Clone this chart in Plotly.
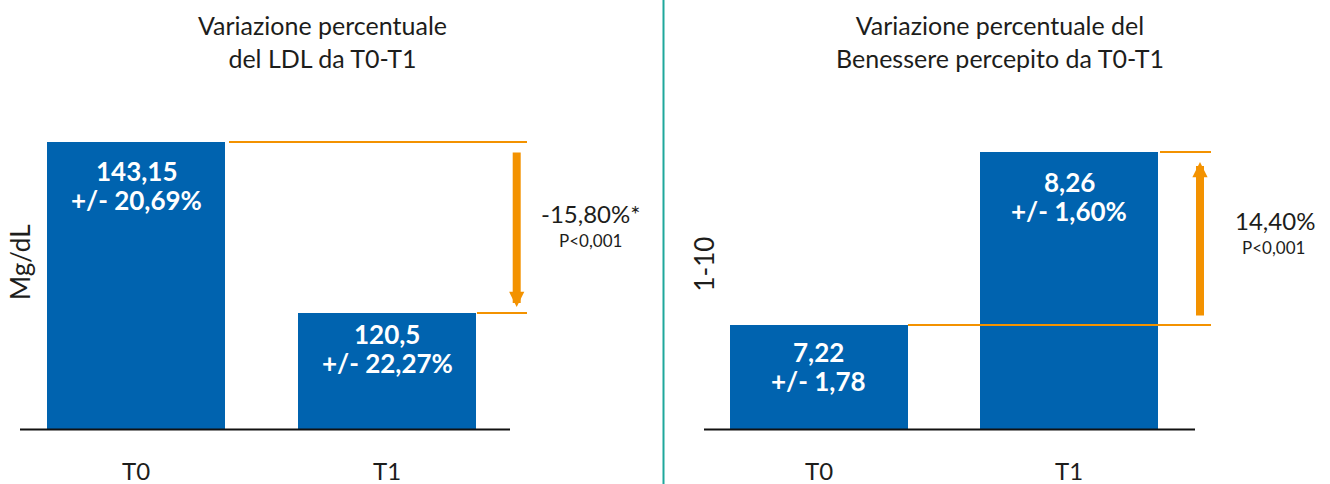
import plotly.graph_objects as go

# ---------------- data ----------------
categories = ["T0", "T1"]
ldl_values = [143.15, 120.5]
ldl_value_labels = ["143,15", "120,5"]
ldl_sd_labels = ["+/- 20,69%", "+/- 22,27%"]
wellbeing_values = [7.22, 8.26]
wellbeing_value_labels = ["7,22", "8,26"]
wellbeing_sd_labels = ["+/- 1,78", "+/- 1,60%"]
ldl_change_label = "-15,80%*"
wellbeing_change_label = "14,40%"
p_value_label = "P<0,001"
panel_titles = ["Variazione percentuale<br>del LDL da T0-T1",
                "Variazione percentuale del<br>Benessere percepito da T0-T1"]
y_titles = ["Mg/dL", "1-10"]

# ---------------- style ----------------
W, H = 1330, 484
BLUE = "#0063AF"
ORANGE = "#F39200"
TEAL = "#1FA89C"
TEXT = "#1D1D1B"
FONT = "Lato"
PLOT_TOP, PLOT_BOTTOM = 100, 429

LEFT = dict(dom=(20, 650), c0=136, step=251, yr=(105.14, 148.71), base=(20, 510))
RIGHT = dict(dom=(704, 1320), c0=819, step=250, yr=(6.595, 8.573), base=(704, 1195))
BAR_W_PX = 178


def px_x(px):
    return px / W


def px_y(py):
    return (H - py) / H


def xdata(p, px):
    return (px - p["c0"]) / p["step"]


def ydata(p, py):
    lo, hi = p["yr"]
    return lo + (PLOT_BOTTOM - py) * (hi - lo) / (PLOT_BOTTOM - PLOT_TOP)


fig = go.Figure()
fig.add_trace(go.Bar(x=categories, y=ldl_values, xaxis="x", yaxis="y",
                     width=BAR_W_PX / LEFT["step"], marker=dict(color=BLUE, line=dict(width=0)),
                     hoverinfo="skip"))
fig.add_trace(go.Bar(x=categories, y=wellbeing_values, xaxis="x2", yaxis="y2",
                     width=BAR_W_PX / RIGHT["step"], marker=dict(color=BLUE, line=dict(width=0)),
                     hoverinfo="skip"))

tickfont = dict(family=FONT, size=24, color=TEXT)
common_x = dict(type="category", showgrid=False, zeroline=False, showline=False,
                ticks="", tickfont=tickfont, ticklabelstandoff=26, automargin=False, fixedrange=True)
common_y = dict(visible=False, domain=[px_y(PLOT_BOTTOM), px_y(PLOT_TOP)], fixedrange=True)

fig.update_layout(
    width=W, height=H, autosize=False,
    margin=dict(l=0, r=0, t=0, b=0),
    paper_bgcolor="white", plot_bgcolor="white",
    showlegend=False, bargap=0,
    font=dict(family=FONT, color=TEXT),
    xaxis=dict(domain=[px_x(LEFT["dom"][0]), px_x(LEFT["dom"][1])],
               range=[xdata(LEFT, LEFT["dom"][0]), xdata(LEFT, LEFT["dom"][1])],
               anchor="y", **common_x),
    yaxis=dict(range=list(LEFT["yr"]), anchor="x", **common_y),
    xaxis2=dict(domain=[px_x(RIGHT["dom"][0]), px_x(RIGHT["dom"][1])],
                range=[xdata(RIGHT, RIGHT["dom"][0]), xdata(RIGHT, RIGHT["dom"][1])],
                anchor="y2", **common_x),
    yaxis2=dict(range=list(RIGHT["yr"]), anchor="x2", **common_y),
)

shapes = []
annotations = []

# baselines and divider
for p, xr in ((LEFT, "x"), (RIGHT, "x2")):
    shapes.append(dict(type="line", xref=xr, yref="paper",
                       x0=xdata(p, p["base"][0]), x1=xdata(p, p["base"][1]),
                       y0=px_y(PLOT_BOTTOM + 0.5), y1=px_y(PLOT_BOTTOM + 0.5),
                       line=dict(color="#111111", width=2)))
shapes.append(dict(type="line", xref="paper", yref="paper", x0=px_x(663.5), x1=px_x(663.5),
                   y0=0, y1=1, line=dict(color=TEAL, width=2)))

# orange reference lines
shapes.append(dict(type="line", xref="x", yref="y", x0=xdata(LEFT, 229), x1=xdata(LEFT, 527),
                   y0=ldl_values[0], y1=ldl_values[0], line=dict(color=ORANGE, width=2)))
shapes.append(dict(type="line", xref="x", yref="y", x0=xdata(LEFT, 477), x1=xdata(LEFT, 527),
                   y0=ldl_values[1], y1=ldl_values[1], line=dict(color=ORANGE, width=2)))
shapes.append(dict(type="line", xref="x2", yref="y2", x0=xdata(RIGHT, 1160), x1=xdata(RIGHT, 1211),
                   y0=wellbeing_values[1], y1=wellbeing_values[1], line=dict(color=ORANGE, width=2)))
shapes.append(dict(type="line", xref="x2", yref="y2", x0=xdata(RIGHT, 908), x1=xdata(RIGHT, 1211),
                   y0=wellbeing_values[0], y1=wellbeing_values[0], line=dict(color=ORANGE, width=2)))

# arrows
annotations.append(dict(xref="x", yref="y", axref="x", ayref="y",
                        x=xdata(LEFT, 516.7), y=ydata(LEFT, 307),
                        ax=xdata(LEFT, 516.7), ay=ydata(LEFT, 151),
                        showarrow=True, arrowhead=2, arrowsize=0.38, arrowwidth=8,
                        arrowcolor=ORANGE, text="", standoff=0, startstandoff=0))
annotations.append(dict(xref="x2", yref="y2", axref="x2", ayref="y2",
                        x=xdata(RIGHT, 1200), y=ydata(RIGHT, 162),
                        ax=xdata(RIGHT, 1200), ay=ydata(RIGHT, 317),
                        showarrow=True, arrowhead=2, arrowsize=0.38, arrowwidth=8,
                        arrowcolor=ORANGE, text="", standoff=0, startstandoff=0))

# bar labels
label_font = dict(family=FONT, size=26, color="white", weight="bold")
for xr, yr, vals, l1, l2, offs in (
        ("x", "y", ldl_values, ldl_value_labels, ldl_sd_labels, (29.5, 21)),
        ("x2", "y2", wellbeing_values, wellbeing_value_labels, wellbeing_sd_labels, (27, 29.7))):
    for i, cat in enumerate(categories):
        annotations.append(dict(xref=xr, yref=yr, x=cat, y=vals[i], text=l1[i], showarrow=False,
                                yanchor="middle", yshift=-offs[i], font=label_font))
        annotations.append(dict(xref=xr, yref=yr, x=cat, y=vals[i], text=l2[i], showarrow=False,
                                yanchor="middle", yshift=-(offs[i] + 29), font=label_font))

# titles
for title, cx in zip(panel_titles, (322, 1000)):
    annotations.append(dict(xref="paper", yref="paper", x=px_x(cx), y=px_y(41.5), text=title,
                            showarrow=False, xanchor="center", yanchor="middle",
                            font=dict(family=FONT, size=25, color=TEXT)))

# change labels
for txt, cx, cy in ((ldl_change_label, 590, 213), (wellbeing_change_label, 1275, 220)):
    annotations.append(dict(xref="paper", yref="paper", x=px_x(cx), y=px_y(cy), text=txt,
                            showarrow=False, xanchor="center", yanchor="middle", borderpad=0,
                            font=dict(family=FONT, size=24, color=TEXT)))
for cx, cy in ((590, 240.5), (1273, 247.5)):
    annotations.append(dict(xref="paper", yref="paper", x=px_x(cx), y=px_y(cy), text=p_value_label,
                            showarrow=False, xanchor="center", yanchor="middle", borderpad=0,
                            font=dict(family=FONT, size=17, color=TEXT)))

# y titles
for txt, cx, cy in ((y_titles[0], 20, 262), (y_titles[1], 703.5, 264)):
    annotations.append(dict(xref="paper", yref="paper", x=px_x(cx), y=px_y(cy), text=txt,
                            textangle=-90, showarrow=False, xanchor="center", yanchor="middle",
                            font=dict(family=FONT, size=26, color=TEXT)))

fig.update_layout(shapes=shapes, annotations=annotations)
fig.write_html("out.html", config=dict(displayModeBar=False))
